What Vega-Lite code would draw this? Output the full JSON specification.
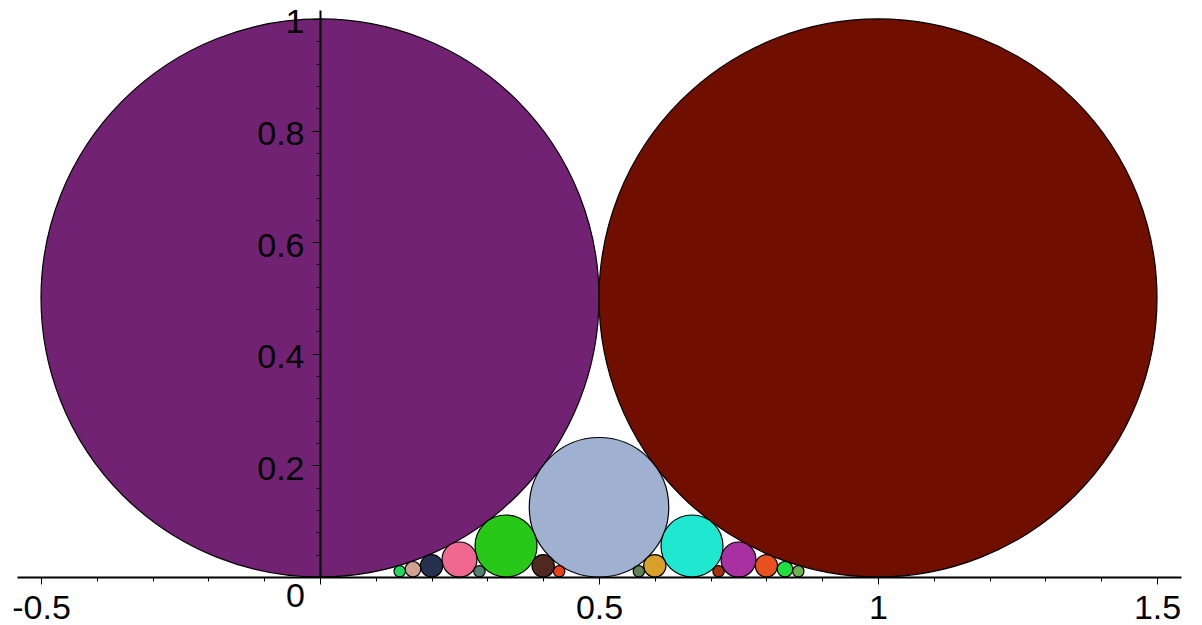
{
  "$schema": "https://vega.github.io/schema/vega-lite/v6.json",
  "width": 1164,
  "height": 567,
  "autosize": {"type": "none"},
  "padding": {"left": 17, "top": 10, "right": 21, "bottom": 48},
  "background": "white",
  "config": {"view": {"stroke": null}},
  "data": {
    "values": [
      {"frac": "0/1", "x": 0, "y": 0.5, "r": 0.5},
      {"frac": "1/1", "x": 1, "y": 0.5, "r": 0.5},
      {"frac": "1/2", "x": 0.5, "y": 0.125, "r": 0.125},
      {"frac": "1/3", "x": 0.333333, "y": 0.055556, "r": 0.055556},
      {"frac": "2/3", "x": 0.666667, "y": 0.055556, "r": 0.055556},
      {"frac": "1/4", "x": 0.25, "y": 0.03125, "r": 0.03125},
      {"frac": "3/4", "x": 0.75, "y": 0.03125, "r": 0.03125},
      {"frac": "1/5", "x": 0.2, "y": 0.02, "r": 0.02},
      {"frac": "2/5", "x": 0.4, "y": 0.02, "r": 0.02},
      {"frac": "3/5", "x": 0.6, "y": 0.02, "r": 0.02},
      {"frac": "4/5", "x": 0.8, "y": 0.02, "r": 0.02},
      {"frac": "1/6", "x": 0.166667, "y": 0.013889, "r": 0.013889},
      {"frac": "5/6", "x": 0.833333, "y": 0.013889, "r": 0.013889},
      {"frac": "1/7", "x": 0.142857, "y": 0.010204, "r": 0.010204},
      {"frac": "2/7", "x": 0.285714, "y": 0.010204, "r": 0.010204},
      {"frac": "3/7", "x": 0.428571, "y": 0.010204, "r": 0.010204},
      {"frac": "4/7", "x": 0.571429, "y": 0.010204, "r": 0.010204},
      {"frac": "5/7", "x": 0.714286, "y": 0.010204, "r": 0.010204},
      {"frac": "6/7", "x": 0.857143, "y": 0.010204, "r": 0.010204}
    ]
  },
  "mark": {"type": "point", "shape": "circle", "filled": true, "opacity": 1, "stroke": "black", "strokeWidth": 1.2},
  "encoding": {
    "x": {
      "field": "x",
      "type": "quantitative",
      "scale": {"domain": [-0.543, 1.543], "nice": false, "zero": false},
      "axis": {
        "values": [-0.5, -0.4, -0.3, -0.2, -0.1, 0, 0.1, 0.2, 0.3, 0.4, 0.5, 0.6, 0.7, 0.8, 0.9, 1, 1.1, 1.2, 1.3, 1.4, 1.5],
        "title": null,
        "grid": false,
        "zindex": 1,
        "domainColor": "black",
        "domainWidth": 2,
        "tickColor": "black",
        "tickWidth": 1,
        "tickSize": {"condition": {"test": "abs(datum.value*2 - round(datum.value*2)) < 1e-6", "value": 7}, "value": 4},
        "labelExpr": "abs(datum.value*2 - round(datum.value*2)) < 1e-6 ? (datum.value < 0 ? '-' + format(-datum.value, '~g') : format(datum.value, '~g')) : ''",
        "labelFont": "Liberation Sans",
        "labelFontSize": 34,
        "labelColor": "black",
        "labelPadding": {"condition": {"test": "abs(datum.value) < 1e-6", "value": -5}, "value": 7},
        "labelOffset": {"condition": {"test": "abs(datum.value) < 1e-6", "value": -25}, "value": 0},
        "labelOverlap": false,
        "labelFlush": false,
        "labelBound": false
      }
    },
    "y": {
      "field": "y",
      "type": "quantitative",
      "scale": {"domain": [0, 1.016], "nice": false, "zero": false},
      "axis": {
        "values": [0.04, 0.08, 0.12, 0.16, 0.2, 0.24, 0.28, 0.32, 0.36, 0.4, 0.44, 0.48, 0.52, 0.56, 0.6, 0.64, 0.68, 0.72, 0.76, 0.8, 0.84, 0.88, 0.92, 0.96, 1],
        "offset": -303,
        "title": null,
        "grid": false,
        "zindex": 1,
        "domainColor": "black",
        "domainWidth": 2,
        "tickColor": "black",
        "tickWidth": 1,
        "tickSize": {"condition": {"test": "abs(datum.value*5 - round(datum.value*5)) < 1e-6", "value": 9}, "value": 4},
        "labelExpr": "abs(datum.value*5 - round(datum.value*5)) < 1e-6 ? format(datum.value, '~g') : ''",
        "labelFont": "Liberation Sans",
        "labelFontSize": 34,
        "labelColor": "black",
        "labelPadding": 7,
        "labelOffset": 4,
        "labelOverlap": false,
        "labelFlush": false,
        "labelBound": false
      }
    },
    "size": {
      "field": "r",
      "type": "quantitative",
      "scale": {"type": "pow", "exponent": 2, "domain": [0, 0.5], "range": [0, 311364]},
      "legend": null
    },
    "color": {
      "field": "frac",
      "type": "nominal",
      "scale": {
        "domain": ["0/1", "1/1", "1/2", "1/3", "2/3", "1/4", "3/4", "1/5", "2/5", "3/5", "4/5", "1/6", "5/6", "1/7", "2/7", "3/7", "4/7", "5/7", "6/7"],
        "range": ["#722272", "#700E00", "#A0B0D0", "#28C818", "#20E8D0", "#F06890", "#A830A0", "#283050", "#502820", "#D8A028", "#E85020", "#D0A090", "#20E040", "#20D860", "#508070", "#E84018", "#608058", "#A03010", "#70B050"]
      },
      "legend": null
    }
  }
}
